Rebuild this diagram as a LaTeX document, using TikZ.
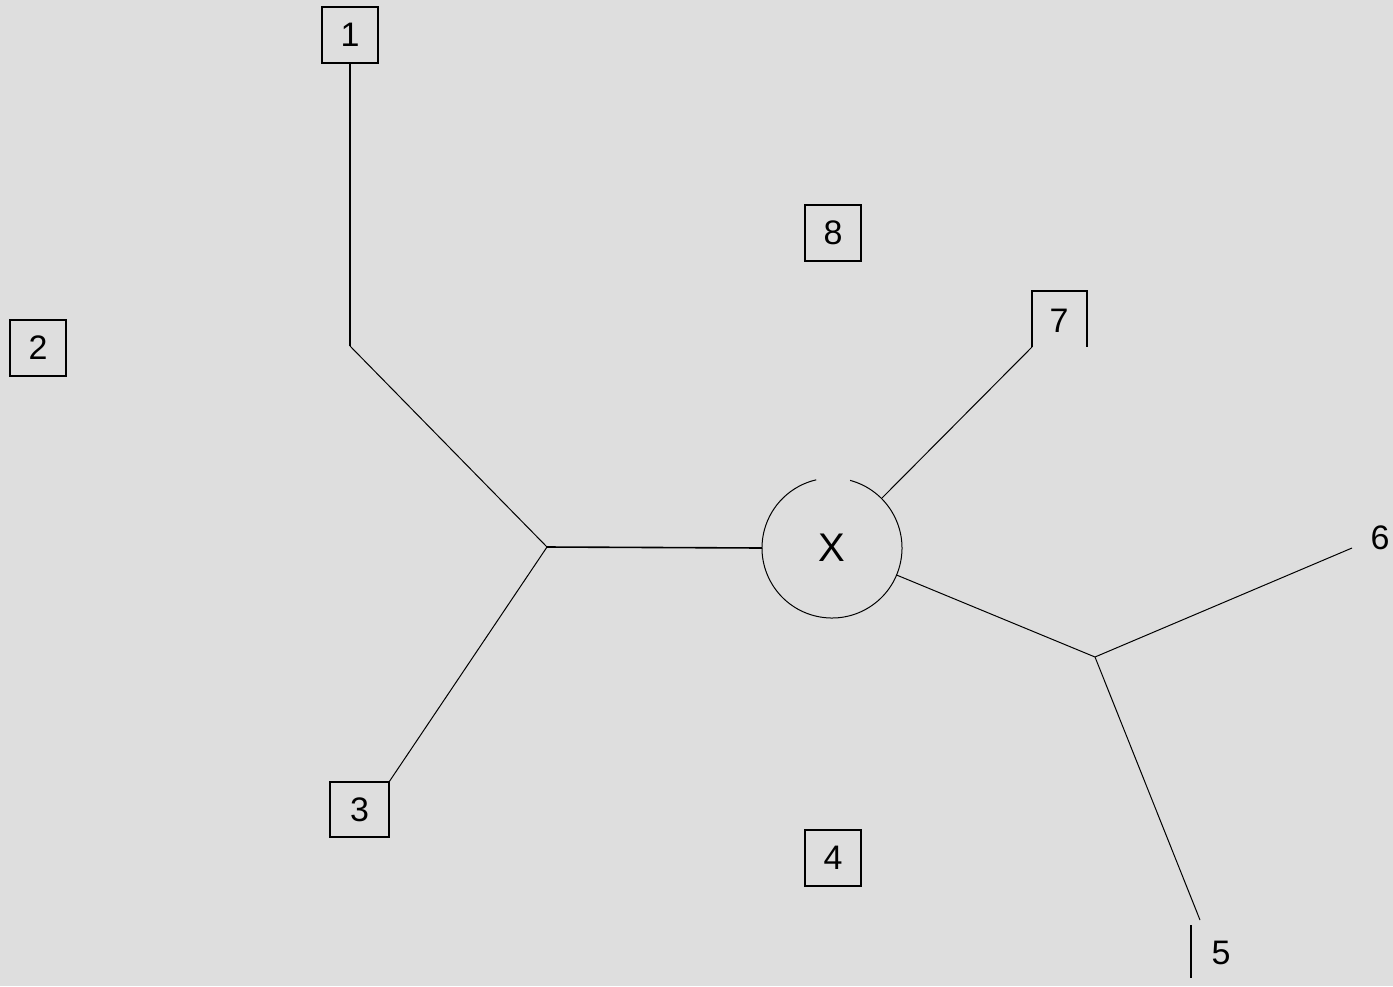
\documentclass[tikz,border=0pt]{standalone}
\usepackage{fontspec}
\setmainfont{Liberation Sans}
\definecolor{bg}{RGB}{222,222,222}
\begin{document}
\begin{tikzpicture}[x=1pt,y=-1pt,
  lbl/.style={font=\fontsize{34}{36}\selectfont, inner sep=0pt},
  boxnode/.style={lbl, draw, line width=1.6pt, minimum width=56pt, minimum height=56pt},
  edge/.style={line width=1pt},
  thick edge/.style={line width=1.6pt}]
\fill[bg] (0,0) rectangle (1393,986);
\useasboundingbox (0,0) rectangle (1393,986);
% boxes
\node[boxnode] (n1) at (350,35) {1};
\node[boxnode] (n2) at (38,348) {2};
\node[boxnode] (n8) at (833,233) {8};
\node[boxnode, minimum width=59pt, minimum height=55pt] (n3) at (359.5,809.5) {3};
\node[boxnode] (n4) at (833,858) {4};
% box 7 (open at bottom)
\node[lbl] (n7) at (1059,321) {7};
\coordinate (b7l) at (1032,347);
\coordinate (b7r) at (1087,347);
\draw[thick edge] (b7l) -- (1032,291) -- (1087,291) -- (b7r);
% labels 6 and 5
\node[lbl] (n6) at (1380,538) {6};
\node[lbl] (n5) at (1221,953) {5};
\coordinate (bar5a) at (1191,925);
\coordinate (bar5b) at (1191,978);
\draw[thick edge] (bar5a) -- (bar5b);
% centre X with circle (gap at the top)
\node[lbl, font=\fontsize{40}{42}\selectfont] (x) at (832,548) {X};
\draw[edge] (x.center) ++(-75:70) arc[start angle=-75, end angle=257, radius=70];
% junctions
\coordinate (j1) at (350,346);
\coordinate (j2) at (547,547);
\coordinate (j3) at (1095,657);
\coordinate (e6) at (1352,548);
\coordinate (e5) at (1200,920);
\coordinate (c3) at (389,782);
% connectors
\draw[thick edge] (n1.south) -- (j1);
\draw[edge] (j1) -- (j2);
\draw[thick edge] (j2) -- ([xshift=-70pt]x.center);
\draw[edge] (j2) -- (c3);
\draw[edge] ([shift={(-45:70)}]x.center) -- (b7l);
\draw[edge] ([shift={(22.7:70)}]x.center) -- (j3);
\draw[edge] (j3) -- (e6);
\draw[edge] (j3) -- (e5);
\end{tikzpicture}
\end{document}
